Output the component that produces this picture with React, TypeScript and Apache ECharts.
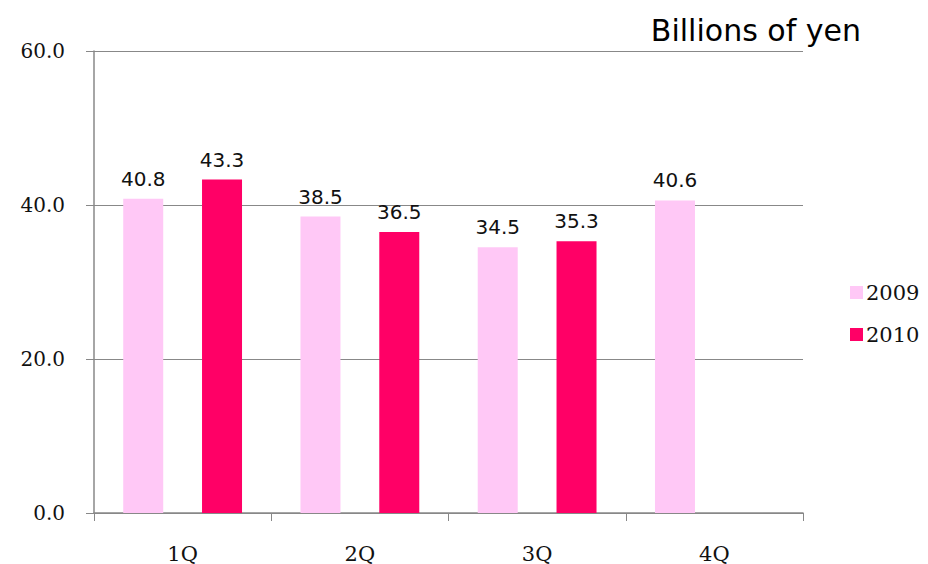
import React, { useEffect, useRef } from "react";
import * as echarts from "echarts";

const categories = ["1Q", "2Q", "3Q", "4Q"];
const values2009 = [40.8, 38.5, 34.5, 40.6];
const values2010: (number | null)[] = [43.3, 36.5, 35.3, null];
const yTicks = [0, 20, 40, 60];

export default function App() {
  const ref = useRef<HTMLDivElement>(null);
  useEffect(() => {
    const chart = echarts.init(ref.current!, null, { renderer: "svg" });
    const labelStyle = {
      show: true,
      position: "top" as const,
      distance: 10,
      fontFamily: "DejaVu Sans",
      fontSize: 20,
      color: "#111",
      formatter: (p: any) => Number(p.value).toFixed(1),
    };
    chart.setOption({
      animation: false,
      backgroundColor: "#fff",
      title: {
        text: "Billions of yen",
        right: 62,
        top: 10,
        textStyle: { fontFamily: "DejaVu Sans", fontSize: 30, fontWeight: "normal", color: "#000" },
      },
      legend: {
        orient: "vertical",
        left: 845,
        top: 277,
        itemWidth: 13,
        itemHeight: 13,
        itemGap: 21,
        icon: "rect",
        textStyle: { fontFamily: "DejaVu Serif", fontSize: 21, color: "#111", padding: [0, 0, 0, -2] },
        data: ["2009", "2010"],
      },
      grid: { left: 94, right: 125, top: 51, bottom: 51 },
      xAxis: {
        type: "category",
        data: categories,
        axisLine: { lineStyle: { color: "#888", width: 1.5 } },
        axisTick: { show: true, length: 8, lineStyle: { color: "#888" } },
        axisLabel: { fontFamily: "DejaVu Serif", fontSize: 21, color: "#111", margin: 30 },
      },
      yAxis: {
        type: "value",
        min: yTicks[0],
        max: yTicks[yTicks.length - 1],
        interval: 20,
        axisLine: { show: true, lineStyle: { color: "#888", width: 1.5 } },
        axisTick: { show: true, length: 8, lineStyle: { color: "#888" } },
        splitLine: { lineStyle: { color: "#888", width: 1.2 } },
        axisLabel: {
          fontFamily: "DejaVu Serif",
          fontSize: 20,
          color: "#111",
          margin: 29,
          formatter: (v: number) => v.toFixed(1),
        },
      },
      series: [
        {
          name: "2009",
          type: "bar",
          data: values2009,
          barWidth: 40,
          barGap: "97%",
          itemStyle: { color: "#FFC8F6" },
          label: labelStyle,
        },
        {
          name: "2010",
          type: "bar",
          data: values2010,
          barWidth: 40,
          barGap: "97%",
          itemStyle: { color: "#FF0066" },
          label: labelStyle,
        },
      ],
    });
    return () => chart.dispose();
  }, []);
  return <div ref={ref} style={{ width: 928, height: 564, position: "absolute", left: 0, top: 0 }} />;
}
